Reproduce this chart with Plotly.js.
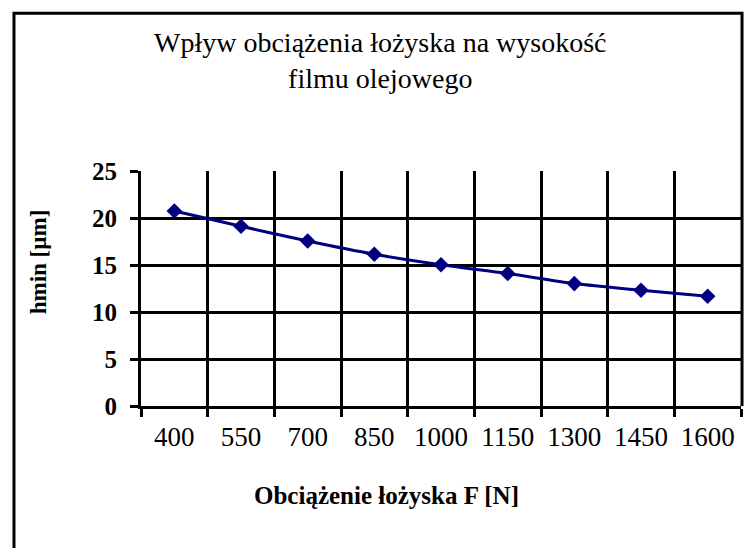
<!DOCTYPE html>
<html>
<head>
<meta charset="utf-8">
<script src="https://cdn.plot.ly/plotly-3.0.1.min.js"></script>
<style>html,body{margin:0;padding:0;background:#fff;}#chart{width:744px;height:548px;}</style>
</head>
<body>
<div id="chart"></div>
<script>
const categories = ["400","550","700","850","1000","1150","1300","1450","1600"];
const hmin = [20.75, 19.12, 17.55, 16.14, 15.02, 14.09, 13.02, 12.31, 11.67];
const yTicks = [0, 5, 10, 15, 20, 25];
const titleText = "Wpływ obciążenia łożyska na wysokość<br>filmu olejowego";
const xTitle = "Obciążenie łożyska F [N]";
const yTitle = "hmin [µm]";

const serif = "'Liberation Serif', 'Times New Roman', Times, serif";

const trace = {
  x: categories,
  y: hmin,
  type: "scatter",
  mode: "lines+markers",
  line: {color: "#000080", width: 3, shape: "spline", smoothing: 0.8},
  marker: {symbol: "diamond", size: 12, color: "#000080"},
  hoverinfo: "skip"
};

const layout = {
  width: 744, height: 548,
  margin: {l: 141, r: 3, t: 171, b: 142, pad: 0},
  paper_bgcolor: "#fff", plot_bgcolor: "#fff",
  showlegend: false,
  font: {family: serif, color: "#000"},
  xaxis: {
    type: "category", range: [-0.5, 8.5], tickson: "boundaries",
    showgrid: true, gridcolor: "#000", gridwidth: 3,
    showline: true, linecolor: "#000", linewidth: 3,
    ticks: "outside", ticklen: 8, tickwidth: 3, tickcolor: "#000",
    tickfont: {family: serif, size: 27, color: "#000"},
    ticklabelstandoff: 5, zeroline: false, fixedrange: true
  },
  yaxis: {
    range: [0, 25], tickvals: yTicks, ticktext: yTicks.map(v => "<b>" + v + "</b>"),
    showgrid: true, gridcolor: "#000", gridwidth: 3,
    showline: true, linecolor: "#000", linewidth: 3,
    ticks: "outside", ticklen: 8, tickwidth: 3, tickcolor: "#000",
    tickfont: {family: serif, size: 25, color: "#000"},
    ticklabelstandoff: 8, zeroline: false, fixedrange: true
  },
  annotations: [
    {text: titleText, xref: "paper", yref: "paper",
     x: (380 - 141) / 600, y: (405.7 - 60) / 235, xanchor: "center", yanchor: "middle",
     showarrow: false, font: {family: serif, size: 28, color: "#000"}},
    {text: "<b>" + xTitle + "</b>", xref: "paper", yref: "paper",
     x: (386 - 141) / 600, y: -(495 - 405.7) / 235, xanchor: "center", yanchor: "middle",
     showarrow: false, font: {family: serif, size: 25, color: "#000"}},
    {text: "<b>" + yTitle + "</b>", xref: "paper", yref: "paper", textangle: -90,
     x: (38 - 141) / 600, y: (405.7 - 262) / 235, xanchor: "center", yanchor: "middle",
     showarrow: false, font: {family: serif, size: 23, color: "#000"}}
  ],
  shapes: [
    {type: "path", xref: "paper", yref: "paper",
     path: "M -0.2117 -1 L -0.2117 1.6714 L 1.0017 1.6714 L 1.0017 0",
     line: {color: "#000", width: 3}}
  ]
};

Plotly.newPlot("chart", [trace], layout, {displayModeBar: false, staticPlot: true});
</script>
</body>
</html>
